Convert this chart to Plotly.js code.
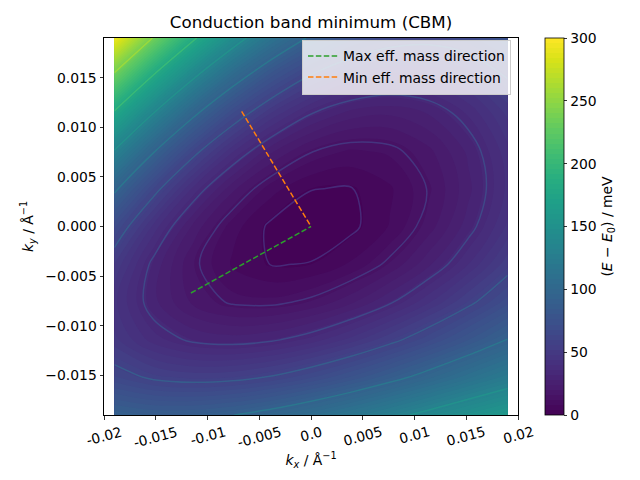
<!DOCTYPE html>
<html>
<head>
<meta charset="utf-8">
<script src="https://cdn.plot.ly/plotly-3.0.1.min.js"></script>
<style>html,body{margin:0;padding:0;background:#fff}#chart{width:640px;height:480px}</style>
</head>
<body>
<div id="chart"></div>
<script>
// k-grid (Å^-1)
const kxGrid = [-0.019, -0.0152, -0.0114, -0.0076, -0.0038, 0, 0.0038, 0.0076, 0.0114, 0.0152, 0.019];
const kyGrid = [-0.019, -0.0152, -0.0114, -0.0076, -0.0038, 0, 0.0038, 0.0076, 0.0114, 0.0152, 0.019];
// E - E0 (meV), rows = ky (bottom to top), columns = kx (left to right)
const energy = [
  [ 91.3,  88.0,  88.6,  92.3,  98.6, 107.0, 116.8, 127.6, 138.7, 149.5, 159.4],
  [ 64.4,  57.4,  54.8,  55.9,  60.3,  67.4,  76.5,  87.2,  98.7, 110.8, 122.4],
  [ 49.2,  37.9,  31.7,  29.9,  32.0,  37.3,  45.3,  55.5,  67.1,  79.8,  92.9],
  [ 45.1,  29.2,  19.0,  13.8,  13.1,  16.3,  22.8,  32.0,  43.4,  56.4,  70.4],
  [ 51.8,  30.9,  16.3,   7.3,   3.4,   4.0,   8.5,  16.4,  27.1,  40.0,  54.6],
  [ 68.8,  42.5,  23.0,   9.9,   2.4,   0.0,   2.2,   8.3,  17.9,  30.3,  44.9],
  [ 95.8,  63.6,  38.9,  21.1,   9.6,   3.9,   3.3,   7.3,  15.3,  26.7,  41.1],
  [132.3,  93.9,  63.5,  40.7,  24.8,  15.2,  11.4,  12.8,  18.9,  29.0,  42.6],
  [177.9, 132.8,  96.4,  68.1,  47.3,  33.6,  26.2,  24.6,  28.3,  36.6,  49.1],
  [232.2, 180.1, 137.1, 103.0,  76.9,  58.5,  47.1,  42.2,  43.1,  49.3,  60.2],
  [294.8, 235.1, 185.3, 144.8, 113.2,  89.7,  73.9,  65.1,  62.8,  66.4,  75.4]
];
// contour line levels (meV)
const lineLevels = [3.7, 14.8, 33.3, 59.3, 92.6, 133.3, 181.5, 237.0];
const lineColors = ['#482d7c', '#453882', '#3e4b8a', '#35608d', '#2a798e', '#22928c', '#3bbb75', '#a0da39'];
// effective-mass directions
const maxDirX = [-0.0116, 0];
const maxDirY = [-0.0067, 0];
const minDirX = [-0.0067, 0];
const minDirY = [0.0116, 0];
const seriesNames = ['Max eff. mass direction', 'Min eff. mass direction'];
const xTickVals = [-0.02, -0.015, -0.01, -0.005, 0, 0.005, 0.01, 0.015, 0.02];
const xTickText = ['-0.02', '-0.015', '-0.01', '-0.005', '0.0', '0.005', '0.01', '0.015', '0.02'];
const yTickVals = [-0.015, -0.01, -0.005, 0, 0.005, 0.01, 0.015];
const yTickText = ['\u22120.015', '\u22120.010', '\u22120.005', '0.000', '0.005', '0.010', '0.015'];
const cbTickVals = [0, 50, 100, 150, 200, 250, 300];

const FONT = 'DejaVu Sans, sans-serif';
const traces = [];
traces.push({
  type: 'contour', x: kxGrid, y: kyGrid, z: energy,
  colorscale: 'Viridis', zmin: 0, zmax: 300, autocontour: false,
  contours: {start: 0, end: 300, size: 4, coloring: 'fill', showlines: false},
  line: {width: 0, smoothing: 1},
  hoverinfo: 'skip', showlegend: false,
  colorbar: {
    x: 1.0652, xanchor: 'left', xpad: 0, ypad: 0, thickness: 19,
    len: 1, lenmode: 'fraction', y: 0.5, yanchor: 'middle',
    outlinewidth: 0.8, outlinecolor: '#000',
    ticks: 'outside', ticklen: 3.5, tickwidth: 0.8, tickcolor: '#000',
    tickvals: cbTickVals, tickfont: {family: FONT, size: 13.9, color: '#000'},
    title: {text: '(<i>E</i> \u2212 <i>E</i><sub>0</sub>) / meV', side: 'right', font: {family: FONT, size: 13.9, color: '#000'}}
  }
});
lineLevels.forEach((lv, idx) => {
  traces.push({
    type: 'contour', x: kxGrid, y: kyGrid, z: energy, autocontour: false,
    contours: {start: lv, end: lv, size: 1, coloring: 'none'},
    line: {color: lineColors[idx], width: 1.5, smoothing: 1},
    opacity: 0.9, showscale: false, hoverinfo: 'skip', showlegend: false
  });
});
traces.push({
  type: 'scatter', mode: 'lines', x: maxDirX, y: maxDirY, name: seriesNames[0],
  line: {color: '#2ca02c', width: 1.5, dash: '5.5px,2.4px'}
});
traces.push({
  type: 'scatter', mode: 'lines', x: minDirX, y: minDirY, name: seriesNames[1],
  line: {color: '#ff7f0e', width: 1.5, dash: '5.5px,2.4px'}
});

const axisCommon = {
  showgrid: false, zeroline: false, showline: true, mirror: true,
  linecolor: '#000', linewidth: 1, ticks: 'outside', ticklen: 3.5, tickwidth: 0.8,
  tickcolor: '#000', tickfont: {family: FONT, size: 13.9, color: '#000'}
};
// rotated x tick labels, centred under their ticks
const xLabelAnnotations = xTickVals.map((v, i) => ({
  x: v, xref: 'x', y: -7 / 377, yref: 'paper', text: xTickText[i], showarrow: false,
  textangle: -15, xanchor: 'center', yanchor: 'top', borderpad: 0,
  font: {family: FONT, size: 13.9, color: '#000'}
}));
const layout = {
  width: 640, height: 480,
  margin: {l: 104, r: 122, t: 38, b: 65, pad: 0},
  paper_bgcolor: '#fff', plot_bgcolor: '#fff',
  font: {family: FONT, color: '#000'},
  title: {text: 'Conduction band minimum (CBM)', x: (104 + 207) / 640, xanchor: 'center', y: 1 - 22 / 480, yanchor: 'middle',
          font: {family: FONT, size: 16.7, color: '#000'}},
  xaxis: Object.assign({}, axisCommon, {
    range: [-0.02, 0.02], tickvals: xTickVals, showticklabels: false,
    title: {text: '<i>k<sub>x</sub></i> / Å<sup>\u22121</sup>', font: {family: FONT, size: 13.9, color: '#000'}, standoff: 36}
  }),
  yaxis: Object.assign({}, axisCommon, {
    range: [-0.019, 0.019], tickvals: yTickVals, ticktext: yTickText,
    title: {text: '<i>k<sub>y</sub></i> / Å<sup>\u22121</sup>', font: {family: FONT, size: 13.9, color: '#000'}, standoff: 8}
  }),
  annotations: xLabelAnnotations,
  legend: {
    x: 0.983, xanchor: 'right', y: 0.996, yanchor: 'top',
    bgcolor: 'rgba(255,255,255,0.8)', bordercolor: '#cccccc', borderwidth: 1,
    font: {family: FONT, size: 13.9, color: '#000'}, itemwidth: 30, tracegroupgap: 0
  },
  showlegend: true
};
Plotly.newPlot('chart', traces, layout, {displayModeBar: false, staticPlot: true});
</script>
</body>
</html>
